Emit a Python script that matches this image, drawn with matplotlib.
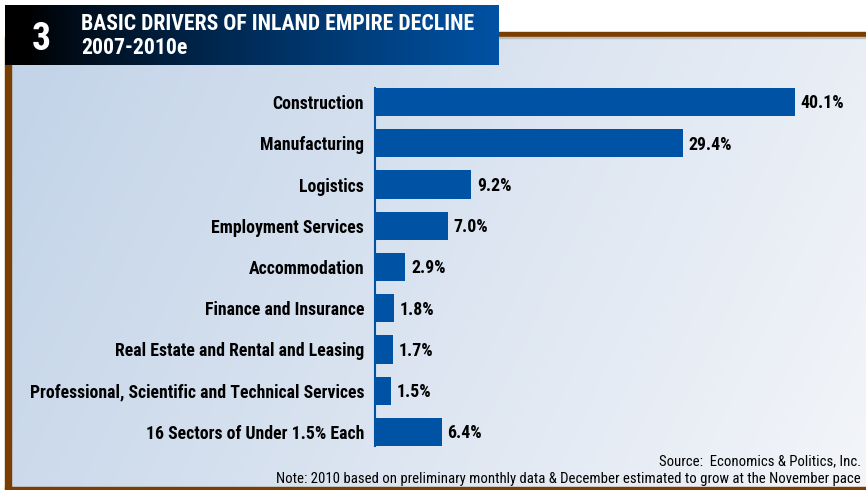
import numpy as np
import matplotlib
matplotlib.use("Agg")
import matplotlib.pyplot as plt
from matplotlib.patches import Rectangle

categories = [
    "Construction",
    "Manufacturing",
    "Logistics",
    "Employment Services",
    "Accommodation",
    "Finance and Insurance",
    "Real Estate and Rental and Leasing",
    "Professional, Scientific and Technical Services",
    "16 Sectors of Under 1.5% Each",
]
shares = [40.1, 29.4, 9.2, 7.0, 2.9, 1.8, 1.7, 1.5, 6.4]
value_labels = ["40.1%", "29.4%", "9.2%", "7.0%", "2.9%", "1.8%", "1.7%", "1.5%", "6.4%"]

title_num = "3"
title_line1 = "BASIC DRIVERS OF INLAND EMPIRE DECLINE"
title_line2 = "2007-2010e"
source_text = "Source:  Economics & Politics, Inc."
note_text = "Note: 2010 based on preliminary monthly data & December estimated to grow at the November pace"

W, H = 866, 490
BAR_BLUE = "#0052a4"
BROWN = "#7a3f00"

CONDENSED = ["Roboto Condensed", "Archivo Narrow", "PT Sans Narrow", "Liberation Sans", "DejaVu Sans"]
plt.rcParams["font.family"] = CONDENSED

fig = plt.figure(figsize=(W / 100, H / 100), dpi=100)
fig.patch.set_facecolor("white")

# Decoration layer in pixel coordinates (y downward)
deco = fig.add_axes([0, 0, 1, 1])
deco.set_xlim(0, W)
deco.set_ylim(H, 0)
deco.axis("off")

# Panel background: diagonal light-blue to near-white gradient
gx, gy = np.meshgrid(np.linspace(0, 1, 300), np.linspace(0, 1, 200))
t = np.clip(0.8 * gx + 0.2 * gy, 0, 1)
c0 = np.array([0xc2, 0xd3, 0xe8]) / 255
c1 = np.array([0xf3, 0xf5, 0xf9]) / 255
grad = c0[None, None, :] * (1 - t[..., None]) + c1[None, None, :] * t[..., None]
deco.imshow(grad, extent=[11, W, 487, 37], aspect="auto", zorder=0)

# Brown frame: top rule, left edge, bottom edge
deco.add_patch(Rectangle((480, 32), W - 480, 5, color=BROWN, zorder=1))
deco.add_patch(Rectangle((480, 37), W - 480, 1.2, color="#bdbdbd", zorder=1))
deco.add_patch(Rectangle((5, 37), 6, 452, color=BROWN, zorder=1))
deco.add_patch(Rectangle((5, 487), W - 5, 3, color=BROWN, zorder=1))

# Title banner: black to blue horizontal gradient
hx = np.linspace(0, 1, 400)[None, :]
hs = np.clip((hx - 0.05) / 0.95, 0, 1) ** 0.8
b0 = np.array([0, 0, 0]) / 255
b1 = np.array([0x00, 0x52, 0xa4]) / 255
hgrad = b0[None, None, :] * (1 - hs[..., None]) + b1[None, None, :] * hs[..., None]
deco.imshow(hgrad, extent=[5, 499, 65, 5], aspect="auto", zorder=2)

deco.text(41, 39, title_num, color="white", fontsize=27, fontweight="bold",
          ha="center", va="center", zorder=3)
deco.text(81, 23.5, title_line1, color="white", fontsize=15.7, fontweight="bold",
          ha="left", va="center", zorder=3)
deco.text(81, 48.5, title_line2, color="white", fontsize=15.7, fontweight="bold",
          ha="left", va="center", zorder=3)

deco.text(861, 461, source_text, color="black", fontsize=10.65, ha="right",
          va="center", zorder=3)
deco.text(861, 479, note_text, color="black", fontsize=10.65, ha="right",
          va="center", zorder=3)

# Bar chart axes placed in pixel space
x0, x1 = 375, 795
ytop, ybot = 102 - 20.6, 432 + 20.6
ax = fig.add_axes([x0 / W, 1 - ybot / H, (x1 - x0) / W, (ybot - ytop) / H])
ax.patch.set_alpha(0)
ax.set_xlim(0, shares[0])
ax.set_ylim(len(categories) - 0.5, -0.5)

ypos = np.arange(len(categories))
ax.barh(ypos, shares, height=0.68, color=BAR_BLUE, zorder=2)
ax.set_yticks(ypos)
ax.set_yticklabels(categories, fontsize=12.8, fontweight="bold")
ax.tick_params(axis="y", length=0, pad=7.8)
ax.set_xticks([])
for s in ("top", "right", "bottom"):
    ax.spines[s].set_visible(False)
ax.spines["left"].set_color(BAR_BLUE)
ax.spines["left"].set_linewidth(1.5)
ax.spines["left"].set_bounds(-0.34, len(categories) - 1 + 0.34)

for y, v, lab in zip(ypos, shares, value_labels):
    ax.annotate(lab, (v, y), xytext=(4, -1), textcoords="offset points",
                ha="left", va="center", fontsize=12.8, fontweight="bold",
                annotation_clip=False)

fig.savefig("out.png", dpi=100)
